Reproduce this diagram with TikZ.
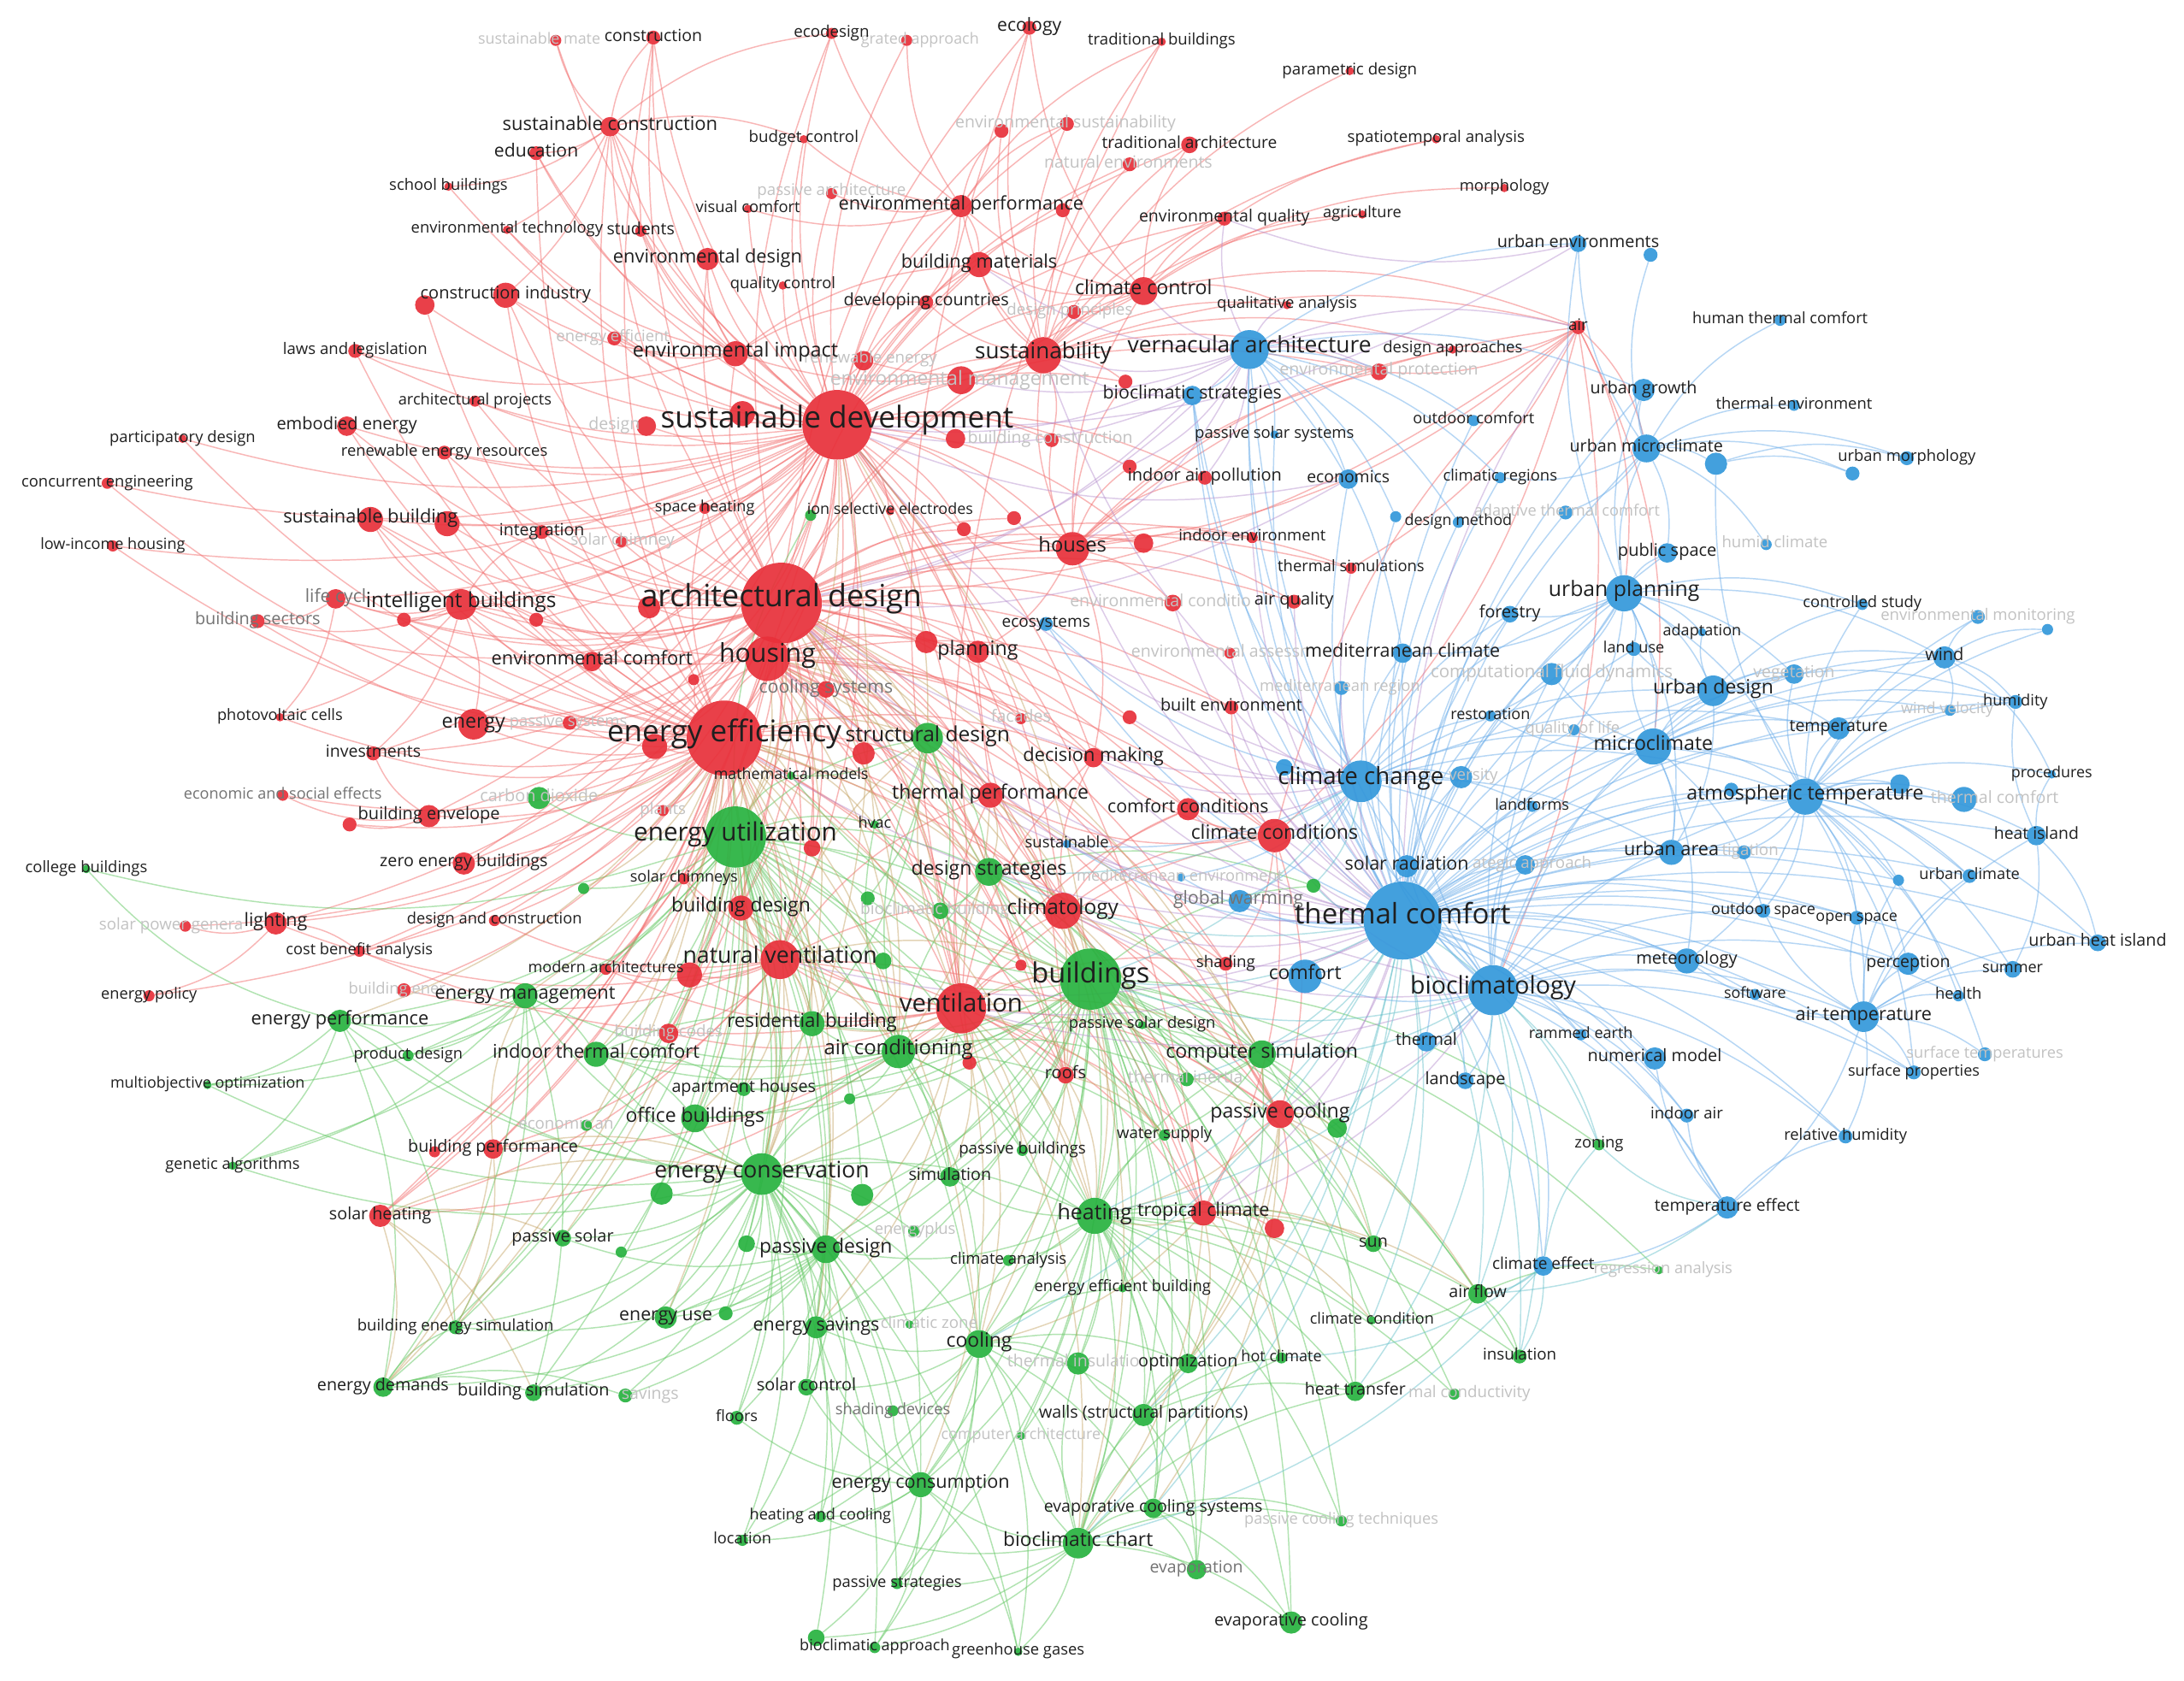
\documentclass[tikz,border=0pt]{standalone}
\usepackage{fontspec}
\setmainfont{Open Sans}
\pgfdeclarelayer{bg}\pgfdeclarelayer{edges}\pgfdeclarelayer{flabels}\pgfdeclarelayer{labels}
\pgfsetlayers{bg,edges,main,flabels,labels}
\definecolor{cR}{RGB}{232,48,58}
\definecolor{cG}{RGB}{40,178,64}
\definecolor{cB}{RGB}{52,152,219}
\definecolor{eR}{RGB}{243,110,110}
\definecolor{eG}{RGB}{100,200,100}
\definecolor{eB}{RGB}{110,175,235}
\definecolor{eRG}{RGB}{195,160,95}
\definecolor{eRB}{RGB}{180,140,205}
\definecolor{eGB}{RGB}{95,190,200}
\tikzset{
 kwc/.style={circle,inner sep=0pt,draw=none,fill opacity=0.92},
 lbl/.style={inner sep=0pt,text=black!88,text height=0.75em,text depth=0.25em},
 flbl/.style={inner sep=0pt,text=black!24,text height=0.75em,text depth=0.25em},
 glbl/.style={inner sep=0pt,text=black!55,text height=0.75em,text depth=0.25em},
 eRs/.style={draw=eR,line width=0.9pt,opacity=0.5},
 eGs/.style={draw=eG,line width=0.9pt,opacity=0.5},
 eBs/.style={draw=eB,line width=0.9pt,opacity=0.5},
 eRGs/.style={draw=eRG,line width=0.9pt,opacity=0.45},
 eRBs/.style={draw=eRB,line width=0.9pt,opacity=0.45},
 eGBs/.style={draw=eGB,line width=0.9pt,opacity=0.45},
}
\newcommand\KW[5]{\node[kwc,fill=c#5,minimum size=#4*2pt] (#1) at (#2,#3) {};}
\newcommand\LB[4]{\begin{pgfonlayer}{labels}\node[lbl,font=\fontsize{#3pt}{#3pt}\selectfont] at (#1,#2) {#4};\end{pgfonlayer}}
\newcommand\KWL[7]{\KW{#1}{#2}{#3}{#4}{#5}\LB{#2}{#3}{#6}{#7}}
\newcommand\FL[5][center]{\begin{pgfonlayer}{flabels}\node[flbl,anchor=#1,font=\fontsize{#4pt}{#4pt}\selectfont] at (#2,#3) {#5};\end{pgfonlayer}}
\newcommand\GL[5][center]{\begin{pgfonlayer}{labels}\node[glbl,anchor=#1,font=\fontsize{#4pt}{#4pt}\selectfont] at (#2,#3) {#5};\end{pgfonlayer}}
\newcommand\EE[3]{\foreach \t in {#3}{\draw[#1] (#2) to[bend left=16] (\t);}}
\begin{document}
\begin{tikzpicture}[x=1pt,y=-1pt]
\begin{pgfonlayer}{bg}\fill[white] (0,0) rectangle (1568,1207);\end{pgfonlayer}
\useasboundingbox (0,0) rectangle (1568,1207);
% ---------------- RED ----------------
\KW{smat}{399}{29}{4}{R}\FL[west]{343}{29}{11}{sustainable mate}
\KWL{constr}{469}{27}{5}{R}{12}{construction}
\KWL{ecod}{597}{24}{4}{R}{11.5}{ecodesign}
\KW{intap}{651}{29}{4}{R}\FL[east]{703}{29}{11}{grated approach}
\KWL{ecol}{739}{20}{5}{R}{13}{ecology}
\KWL{tradb}{834}{30}{3}{R}{11.4}{traditional buildings}
\KWL{param}{969}{51}{3}{R}{11.5}{parametric design}
\KWL{susc}{438}{91}{7}{R}{13.5}{sustainable construction}
\KWL{educ}{385}{110}{5}{R}{13}{education}
\KWL{budg}{577}{100}{3}{R}{11.5}{budget control}
\KW{ensus1}{719}{94}{5}{R}\KW{ensus}{766}{89}{5}{R}\FL{765}{89}{12}{environmental sustainability}
\KWL{tradarch}{854}{104}{6}{R}{11.8}{traditional architecture}
\KW{natenv}{811}{118}{5}{R}\FL{810}{118}{12}{natural environments}
\KWL{spatio}{1031}{100}{3}{R}{11.5}{spatiotemporal analysis}
\KWL{morph}{1080}{135}{3}{R}{11.3}{morphology}
\KWL{schb}{322}{134}{3}{R}{11.3}{school buildings}
\KW{passarch}{597}{139}{4}{R}\FL{597}{138}{11.5}{passive architecture}
\KWL{visc}{537}{150}{3}{R}{11.3}{visual comfort}
\KWL{envperf}{690}{148}{8}{R}{13.4}{environmental performance}
\KW{envperf2}{763}{151}{5}{R}
\KWL{envq}{879}{157}{5}{R}{12}{environmental quality}
\KWL{agri}{978}{154}{3}{R}{11.2}{agriculture}
\KWL{envtech}{364}{165}{3}{R}{11.3}{environmental technology}
\KWL{stud}{460}{166}{4}{R}{12}{students}
\KWL{envdes}{508}{186}{8}{R}{13.4}{environmental design}
\KWL{bmat}{703}{190}{9}{R}{13.4}{building materials}
\KWL{qualc}{562}{205}{3}{R}{11.3}{quality control}
\KWL{devc}{665}{217}{5}{R}{12.2}{developing countries}
\KWL{climc}{821}{209}{10}{R}{14.2}{climate control}
\KW{despr}{771}{224}{5}{R}\FL{768}{224}{11.5}{design principles}
\KWL{quala}{924}{219}{3}{R}{11.4}{qualitative analysis}
\KWL{consind}{363}{212}{9}{R}{12.3}{construction industry}
\KW{consind2}{305}{219}{7}{R}
\KWL{laws}{255}{252}{5}{R}{11.4}{laws and legislation}
\KW{eneff2}{441}{243}{5}{R}\FL{440}{243}{11.3}{energy efficient}
\KWL{envimp}{528}{254}{9}{R}{14.4}{environmental impact}
\KW{renen}{620}{259}{7}{R}\FL{625}{258}{11.5}{renewable energy}
\KWL{susty}{749}{255}{13}{R}{16}{sustainability}
\KW{envmgmt}{690}{273}{10}{R}\FL{689}{274}{14}{environmental management}
\KW{desap}{1043}{251}{3}{R}\LB{1043}{251}{11.4}{design approaches}
\KW{envprot}{990}{267}{6}{R}\FL{990}{267}{12}{environmental protection}
\KWL{air}{1133}{235}{5}{R}{11.5}{air}
\KW{sd2}{533}{297}{9}{R}
\KW{des}{464}{306}{7}{R}\FL{441}{306}{12}{design}
\KWL{sdev}{601}{305}{25}{R}{21.6}{sustainable development}
\KWL{archp}{341}{288}{4}{R}{11.2}{architectural projects}
\KWL{embe}{249}{306}{7}{R}{12.3}{embodied energy}
\KWL{partd}{131}{315}{3}{R}{11.3}{participatory design}
\KWL{renres}{319}{325}{5}{R}{11.3}{renewable energy resources}
\KWL{concur}{77}{347}{4}{R}{11.3}{concurrent engineering}
\KWL{susb}{266}{373}{9}{R}{13.4}{sustainable building}
\KW{susb2}{321}{376}{9}{R}
\KWL{integ}{389}{382}{5}{R}{12}{integration}
\KW{solch}{446}{389}{4}{R}\FL{447}{389}{11.5}{solar chimney}
\KWL{lowinc}{81}{392}{4}{R}{11.1}{low-income housing}
\KWL{spaceh}{506}{365}{4}{R}{11.1}{space heating}
\KWL{ionsel}{639}{367}{3}{R}{11}{ion selective electrodes}
\KW{r1}{728}{372}{5}{R}\KW{r2}{692}{380}{5}{R}\KW{r3}{821}{390}{7}{R}
\KWL{indenv}{899}{386}{4}{R}{11.3}{indoor environment}
\KWL{houses}{770}{394}{12}{R}{14.6}{houses}
\KW{bconst}{755}{316}{5}{R}\KW{bconst2}{686}{315}{7}{R}\FL{754}{316}{12}{building construction}
\KWL{indair}{865}{343}{5}{R}{12.3}{indoor air pollution}
\KW{iap2}{811}{335}{5}{R}\KW{r4}{808}{274}{5}{R}
\KWL{thsim}{970}{408}{4}{R}{11.3}{thermal simulations}
\KW{envcond}{842}{433}{6}{R}\FL[west]{768}{433}{12}{environmental conditio}
\KWL{airq}{929}{432}{5}{R}{12.3}{air quality}
\KWL{archd}{561}{433}{29}{R}{22}{architectural design}
\KW{ar2}{466}{436}{8}{R}
\KW{lifec}{241}{430}{7}{R}\GL{241}{430}{13}{life cycl}
\KWL{intb}{331}{434}{11}{R}{15}{intelligent buildings}
\KW{bsect}{185}{446}{5}{R}\GL{185}{446}{12.2}{building sectors}
\KW{r5}{290}{445}{5}{R}\KW{r6}{385}{445}{5}{R}
\KWL{envcomf}{425}{475}{7}{R}{13.4}{environmental comfort}
\KW{r7}{498}{488}{4}{R}
\KWL{housing}{551}{473}{16}{R}{18.6}{housing}
\KWL{planning}{702}{468}{8}{R}{14.2}{planning}
\KW{pl2}{665}{461}{8}{R}
\KW{coolsys}{593}{495}{6}{R}\GL{593}{495}{13}{cooling systems}
\KWL{photov}{201}{515}{3}{R}{11.2}{photovoltaic cells}
\KWL{energy}{340}{520}{11}{R}{14.3}{energy}
\KW{passys}{409}{519}{5}{R}\FL{408}{519}{11.3}{passive systems}
\KWL{invest}{268}{541}{5}{R}{12}{investments}
\KWL{eeff}{520}{530}{27}{R}{21.5}{energy efficiency}
\KW{ee2}{470}{536}{9}{R}
\KW{ecosoc}{203}{571}{4}{R}\GL{203}{571}{11.1}{economic and social effects}
\KW{plants}{476}{582}{4}{R}\FL{476}{582}{11.5}{plants}
\KWL{benv}{308}{586}{8}{R}{12.3}{building envelope}
\KW{benv2}{251}{592}{5}{R}
\KWL{zeb}{333}{620}{8}{R}{12.1}{zero energy buildings}
\KWL{solchs}{491}{631}{4}{R}{11.1}{solar chimneys}
\KWL{bdes}{532}{652}{9}{R}{14.1}{building design}
\KW{solpow}{133}{665}{4}{R}\FL[west]{71}{665}{11.5}{solar power genera}
\KWL{light}{198}{663}{8}{R}{13.2}{lighting}
\KWL{desconst}{355}{661}{4}{R}{11.2}{design and construction}
\KWL{costb}{258}{683}{4}{R}{11.2}{cost benefit analysis}
\KWL{modarch}{435}{696}{4}{R}{11.1}{modern architectures}
\KW{nv2}{495}{700}{9}{R}
\KWL{natvent}{560}{689}{14}{R}{16.4}{natural ventilation}
\KWL{enpol}{107}{715}{4}{R}{11.2}{energy policy}
\KW{benergy}{290}{711}{5}{R}\FL[west]{250}{711}{11.3}{building ener}
\KW{r8}{480}{742}{7}{R}\FL{480}{742}{11.5}{building codes}
\KWL{vent}{690}{724}{18}{R}{18}{ventilation}
\KW{r9}{733}{693}{4}{R}
\KWL{roofs}{765}{772}{6}{R}{12.3}{roofs}
\KW{r10}{696}{763}{5}{R}
\KWL{bperf}{354}{825}{7}{R}{12.1}{building performance}
\KW{bp2}{312}{827}{4}{R}
\KWL{solheat}{273}{873}{8}{R}{12.1}{solar heating}
\KWL{passcool}{919}{800}{10}{R}{14.2}{passive cooling}
\KWL{tropc}{864}{871}{9}{R}{13.3}{tropical climate}
\KW{tc2}{915}{882}{7}{R}
\KWL{decmak}{785}{544}{7}{R}{13.4}{decision making}
\KWL{thperf}{711}{571}{9}{R}{14.1}{thermal performance}
\KWL{comfc}{853}{581}{8}{R}{13.1}{comfort conditions}
\KWL{climcd}{915}{600}{12}{R}{14.1}{climate conditions}
\KWL{climtgy}{763}{654}{13}{R}{15}{climatology}
\KWL{shading}{880}{692}{5}{R}{11.5}{shading}
\KWL{builtenv}{884}{508}{5}{R}{12.2}{built environment}
\KW{be2}{811}{515}{5}{R}
\KW{facades}{733}{516}{4}{R}\FL{733}{516}{12}{facades}
\KW{envass}{883}{469}{4}{R}\FL[west]{812}{469}{12}{environmental assessm}
\KW{r11}{620}{541}{8}{R}\KW{r12}{583}{609}{6}{R}
% ---------------- GREEN ----------------
\KW{ionG}{582}{370}{4}{G}
\KW{ceG}{387}{573}{8}{G}\FL{387}{573}{12.2}{carbon dioxide}
\KWL{eutil}{528}{601}{22}{G}{18.2}{energy utilization}
\KWL{collb}{62}{624}{3}{G}{11.3}{college buildings}
\KW{g1}{419}{638}{4}{G}\KW{g2}{623}{645}{5}{G}
\KWL{enmgmt}{377}{715}{9}{G}{13.4}{energy management}
\KWL{enperf}{244}{733}{8}{G}{13.4}{energy performance}
\KWL{prodd}{293}{758}{4}{G}{11.2}{product design}
\KWL{itc}{428}{757}{9}{G}{13.5}{indoor thermal comfort}
\KWL{multi}{149}{779}{3}{G}{11}{multiobjective optimization}
\KWL{apth}{534}{782}{5}{G}{12.1}{apartment houses}
\KWL{offb}{499}{803}{10}{G}{14.1}{office buildings}
\KW{econan}{421}{808}{4}{G}\FL[west]{372}{808}{11.5}{economic an}
\KWL{gen}{167}{837}{3}{G}{11.2}{genetic algorithms}
\KW{ec2}{475}{857}{8}{G}\KW{ec3}{619}{858}{8}{G}
\KWL{econs}{547}{843}{15}{G}{16.3}{energy conservation}
\KWL{passsol}{404}{889}{6}{G}{12.2}{passive solar}
\KW{ps2}{446}{899}{4}{G}
\KWL{bes}{327}{953}{5}{G}{11.4}{building energy simulation}
\KWL{enuse}{478}{946}{8}{G}{13.1}{energy use}
\KW{g3}{521}{943}{5}{G}
\KWL{endem}{275}{996}{7}{G}{12.1}{energy demands}
\KWL{bsim}{383}{1000}{6}{G}{12.2}{building simulation}
\KW{esav2}{449}{1002}{5}{G}\FL[west]{446}{1002}{12}{savings}
\KWL{water}{836}{815}{4}{G}{11.4}{water supply}
\KWL{passb}{734}{826}{4}{G}{11.5}{passive buildings}
\KW{pc2}{960}{810}{7}{G}
\KWL{sim}{682}{845}{7}{G}{12.1}{simulation}
\KWL{heating}{786}{873}{13}{G}{15.3}{heating}
\KW{eplus}{656}{884}{4}{G}\FL{657}{884}{11.3}{energyplus}
\KW{g4}{536}{893}{6}{G}
\KWL{passdes}{593}{897}{10}{G}{14.1}{passive design}
\KWL{sun}{986}{893}{6}{G}{12.1}{sun}
\KWL{climan}{724}{905}{4}{G}{11.4}{climate analysis}
\KWL{eeb}{806}{925}{3}{G}{11.3}{energy efficient building}
\KW{climz}{653}{951}{3}{G}\FL[west]{632}{951}{11.5}{climatic zone}
\KWL{esav}{586}{953}{8}{G}{13.2}{energy savings}
\KWL{cool}{703}{965}{10}{G}{14.1}{cooling}
\KW{thins}{774}{979}{8}{G}\FL[west]{723}{979}{12}{thermal insulatio}
\KWL{optim}{853}{979}{7}{G}{12.2}{optimization}
\KWL{hotc}{920}{975}{4}{G}{11.1}{hot climate}
\KWL{climcond2}{985}{948}{3}{G}{11.1}{climate condition}
\KWL{solctl}{579}{996}{6}{G}{12.2}{solar control}
\KW{thcond}{1044}{1001}{4}{G}\FL[west]{1011}{1001}{11.5}{mal conductivity}
\KWL{heattr}{973}{999}{7}{G}{12}{heat transfer}
\KWL{floors}{529}{1018}{5}{G}{11.2}{floors}
\KW{shaddev}{641}{1013}{4}{G}\GL{641}{1013}{11.2}{shading devices}
\KWL{walls}{821}{1016}{8}{G}{12.1}{walls (structural partitions)}
\KW{comparch}{733}{1031}{3}{G}\FL{733}{1031}{11}{computer architecture}
\KWL{encons}{661}{1066}{9}{G}{13.3}{energy consumption}
\KWL{heatcool}{589}{1089}{4}{G}{11.1}{heating and cooling}
\KWL{evcs}{828}{1083}{7}{G}{12}{evaporative cooling systems}
\KW{pct}{963}{1092}{4}{G}\FL{963}{1092}{11.2}{passive cooling techniques}
\KWL{location}{533}{1106}{4}{G}{11.2}{location}
\KWL{bcc}{774}{1108}{11}{G}{14}{bioclimatic chart}
\KW{evap}{859}{1127}{7}{G}\GL{859}{1127}{12}{evaporation}
\KWL{passstr}{644}{1137}{4}{G}{11.3}{passive strategies}
\KWL{evc}{927}{1165}{8}{G}{12.2}{evaporative cooling}
\KW{g5}{586}{1176}{6}{G}
\KWL{bioapp}{628}{1183}{4}{G}{11.1}{bioclimatic approach}
\KWL{ghg}{731}{1186}{3}{G}{11.3}{greenhouse gases}
\KWL{zoning}{1148}{822}{4}{G}{11.3}{zoning}
\KW{regr}{1191}{912}{3}{G}\FL{1194}{912}{11.3}{regression analysis}
\KWL{airflow}{1061}{929}{7}{G}{12.1}{air flow}
\KWL{insul}{1091}{974}{5}{G}{11.5}{insulation}
\KWL{structd}{666}{530}{11}{G}{15.1}{structural design}
\KWL{hvac}{628}{592}{3}{G}{11.1}{hvac}
\KWL{mathm}{568}{557}{3}{G}{11}{mathematical models}
\KWL{desstr}{710}{626}{10}{G}{14.2}{design strategies}
\KW{bioclimb}{675}{654}{6}{G}\FL{671}{654}{11.8}{bioclimatic building}
\KW{g6}{943}{636}{5}{G}\KW{nv3}{634}{690}{6}{G}
\KWL{bldgs}{783}{703}{22}{G}{20}{buildings}
\KWL{resb}{583}{735}{9}{G}{13.7}{residential building}
\KWL{psd}{820}{736}{3}{G}{11.3}{passive solar design}
\KWL{aircon}{645}{755}{12}{G}{14.7}{air conditioning}
\KWL{compsim}{906}{757}{10}{G}{14.2}{computer simulation}
\KW{thinert}{852}{775}{5}{G}\FL{851}{775}{11.9}{thermal inertia}
\KW{g7}{610}{789}{4}{G}
% ---------------- BLUE ----------------
\KWL{vernac}{897}{251}{14}{B}{16.2}{vernacular architecture}
\KWL{bcs}{856}{284}{7}{B}{13.1}{bioclimatic strategies}
\KWL{pss}{915}{312}{3}{B}{11.4}{passive solar systems}
\KWL{econ}{968}{344}{7}{B}{11.9}{economics}
\KWL{urbenv}{1133}{175}{6}{B}{12.2}{urban environments}
\KW{ue2}{1185}{183}{5}{B}
\KWL{htc}{1278}{230}{4}{B}{11.2}{human thermal comfort}
\KWL{urbgr}{1180}{280}{8}{B}{12.1}{urban growth}
\KWL{thenv}{1288}{291}{4}{B}{11.3}{thermal environment}
\KWL{outc}{1058}{302}{4}{B}{11.2}{outdoor comfort}
\KWL{urbmc}{1182}{322}{10}{B}{12.1}{urban microclimate}
\KW{umc2}{1232}{333}{8}{B}
\KWL{urbmorph}{1369}{329}{5}{B}{11.3}{urban morphology}
\KW{um2}{1330}{340}{5}{B}
\KWL{climreg}{1077}{343}{4}{B}{11.3}{climatic regions}
\KW{atc}{1124}{368}{5}{B}\FL{1125}{368}{11.2}{adaptive thermal comfort}
\KW{b1}{1002}{371}{4}{B}
\KWL{desmeth}{1047}{375}{4}{B}{11}{design method}
\KW{hhc}{1268}{391}{4}{B}\FL[west]{1236}{391}{11.4}{humid climate}
\KWL{pubsp}{1197}{397}{7}{B}{12.3}{public space}
\KWL{ecosys}{751}{448}{5}{B}{11.7}{ecosystems}
\KWL{medclim}{1007}{469}{7}{B}{13.2}{mediterranean climate}
\KW{medreg}{963}{494}{5}{B}\FL{962}{494}{11.3}{mediterranean region}
\KW{cfd}{1114}{484}{8}{B}\FL{1114}{484}{12.6}{computational fluid dynamics}
\KW{cc2}{922}{551}{6}{B}
\KW{cc3}{1049}{558}{8}{B}\FL[west]{1040}{558}{11.5}{versity}
\KWL{climch}{977}{561}{15}{B}{17}{climate change}
\KWL{sust}{766}{606}{3}{B}{11.3}{sustainable}
\KWL{solrad}{1010}{622}{8}{B}{13.2}{solar radiation}
\KW{medenv}{848}{630}{3}{B}\FL{847}{630}{11.2}{mediterranean environment}
\KW{glob}{890}{647}{8}{B}\GL{889}{647}{13}{global warming}
\KWL{thc}{1007}{661}{28}{B}{20.3}{thermal comfort}
\KWL{comf}{937}{701}{12}{B}{14}{comfort}
\KWL{bioclimy}{1072}{711}{18}{B}{17.5}{bioclimatology}
\KWL{thermal}{1024}{748}{7}{B}{12}{thermal}
\KWL{landsc}{1052}{776}{6}{B}{12.2}{landscape}
\KWL{urbplan}{1166}{426}{13}{B}{15.2}{urban planning}
\KWL{forestry}{1084}{441}{6}{B}{12.1}{forestry}
\KWL{ctrl}{1337}{434}{4}{B}{11.3}{controlled study}
\KW{envmon}{1420}{443}{5}{B}\FL{1420}{443}{11.4}{environmental monitoring}
\KW{b2}{1470}{452}{4}{B}
\KWL{adapt}{1222}{454}{3}{B}{11.1}{adaptation}
\KWL{landuse}{1173}{466}{5}{B}{11.1}{land use}
\KWL{wind}{1396}{472}{8}{B}{12.3}{wind}
\KW{veg}{1288}{484}{7}{B}\FL{1288}{484}{11.9}{vegetation}
\KWL{urbdes}{1230}{496}{11}{B}{14.1}{urban design}
\KWL{humid}{1447}{504}{5}{B}{11.2}{humidity}
\KW{windv}{1400}{510}{4}{B}\FL{1398}{510}{11}{wind velocity}
\KWL{restor}{1070}{514}{4}{B}{11.1}{restoration}
\KW{qol}{1130}{524}{4}{B}\FL{1129}{524}{11.3}{quality of life}
\KWL{temp}{1320}{523}{8}{B}{12}{temperature}
\KWL{microcl}{1187}{536}{13}{B}{14.2}{microclimate}
\KWL{proc}{1473}{556}{3}{B}{11}{procedures}
\KW{b3}{1243}{567}{5}{B}\KW{b4}{1364}{563}{7}{B}
\KWL{atmt}{1296}{572}{13}{B}{14.2}{atmospheric temperature}
\KW{thc2}{1410}{574}{9}{B}\FL[west]{1386}{574}{12}{thermal comfort}
\KWL{landf}{1100}{579}{4}{B}{11.1}{landforms}
\KW{stratap}{1095}{621}{7}{B}\FL[west]{1057}{621}{11.5}{ategic approach}
\KWL{heatisl}{1462}{600}{7}{B}{11.9}{heat island}
\KW{mitig}{1252}{612}{5}{B}\FL[west]{1236}{612}{11.5}{tigation}
\KWL{urbarea}{1200}{612}{9}{B}{13.3}{urban area}
\KW{b5}{1363}{632}{4}{B}
\KWL{urbclim}{1414}{629}{5}{B}{11.2}{urban climate}
\KWL{outsp}{1266}{654}{5}{B}{11.1}{outdoor space}
\KWL{opensp}{1333}{659}{5}{B}{11}{open space}
\KWL{uhi}{1506}{677}{6}{B}{12.1}{urban heat island}
\KWL{meteo}{1211}{690}{9}{B}{12.3}{meteorology}
\KWL{percep}{1370}{692}{8}{B}{12}{perception}
\KWL{summer}{1445}{696}{6}{B}{11.1}{summer}
\KWL{software}{1260}{714}{4}{B}{11}{software}
\KWL{health}{1406}{715}{4}{B}{11.3}{health}
\KWL{airtemp}{1338}{730}{11}{B}{13.3}{air temperature}
\KWL{rammed}{1135}{743}{4}{B}{11.1}{rammed earth}
\KW{surft}{1425}{757}{5}{B}\FL{1425}{757}{11.2}{surface temperatures}
\KWL{nummod}{1188}{760}{8}{B}{12.2}{numerical model}
\KWL{surfp}{1374}{770}{5}{B}{11.1}{surface properties}
\KWL{indairB}{1211}{801}{5}{B}{11.4}{indoor air}
\KWL{relhum}{1325}{816}{5}{B}{11.3}{relative humidity}
\KWL{tempeff}{1240}{867}{8}{B}{11.9}{temperature effect}
\KWL{climeff}{1108}{909}{7}{B}{11.7}{climate effect}
% ---------------- EDGES ----------------
\begin{pgfonlayer}{edges}
\EE{eRs}{sdev}{constr, susc, educ, envperf, bmat, envdes, stud, consind, consind2, laws, eneff2, envimp, renen, susty, envmgmt, des, archp, embe, renres, susb, susb2, integ, solch, spaceh, ionsel, houses, bconst, bconst2, indair, iap2, archd, housing, eeff, intb, envcomf, planning, energy, natvent, vent, climtgy, thperf, decmak, climc, devc, tradarch, ecod, intap, budg, visc, qualc, passarch, r1, r2, r3, r4, sd2, ar2, lifec, ee2, bdes, envq, envprot, tropc, roofs, solheat, benv, zeb, coolsys, invest, envtech, schb, smat, partd, concur, lowinc, natenv, ensus, ensus1, envperf2, pl2, r5, r6, r7}
\EE{eRs}{archd}{housing, eeff, intb, envcomf, energy, lifec, bsect, r5, r6, r7, ar2, natvent, vent, bdes, climtgy, thperf, decmak, planning, pl2, houses, climc, susty, envimp, envdes, susb, susb2, integ, solch, spaceh, coolsys, modarch, solchs, passys, invest, benv, zeb, light, desconst, costb, r8, nv2, roofs, passcool, tropc, climcd, comfc, builtenv, be2, facades, airq, envcond, thsim, indenv, r1, r2, r3, envass, bperf, solheat, ee2, r11, r12, plants, r9, r10, shading, consind, embe, renres, archp, constr, ecol, ecod, susc, bmat}
\EE{eRs}{eeff}{housing, intb, energy, invest, photov, ecosoc, benv, benv2, zeb, light, solpow, costb, desconst, enpol, benergy, modarch, natvent, nv2, bdes, solchs, r8, bperf, bp2, solheat, vent, envcomf, passys, lifec, bsect, concur, partd, lowinc, susb, susb2, embe, renres, r5, r6, r7, thperf, decmak, climtgy, roofs, tropc, passcool, ee2, r11, r12, plants, consind, consind2, laws, integ, spaceh, constr, educ, susc}
\EE{eRs}{housing}{vent, natvent, climtgy, thperf, planning, pl2, decmak, builtenv, comfc, climcd, roofs, shading, passcool, tropc, r9, r10, susb, intb, energy, coolsys, r11, r12, facades, houses}
\EE{eRs}{vent}{natvent, climtgy, thperf, roofs, r9, r10, passcool, tropc, tc2, shading, decmak, climcd, comfc, r8, nv2, bdes, modarch, bperf, solheat, solchs, costb, ecol, tradb}
\EE{eRs}{natvent}{climtgy, thperf, bdes, nv2, r8, modarch, solchs, roofs, passcool, bperf, solheat, light, desconst, benergy}
\EE{eRs}{houses}{climc, susty, indair, iap2, indenv, thsim, airq, envcond, decmak, air, desap, envprot, r1, r2, r3, r4, planning, bconst}
\EE{eRs}{susty}{climc, bmat, envperf, tradarch, natenv, ensus, ensus1, tradb, ecol, envq, agri, quala, r4, despr, devc, bconst, envmgmt, renen, envimp, air, desap, envprot, spatio, param}
\EE{eRs}{climc}{envq, agri, quala, tradarch, ecol, air, despr, bmat, envperf, envperf2, morph, spatio}
\EE{eRs}{envimp}{consind, envdes, envtech, laws, stud, educ, susc, constr, bmat, devc, eneff2}
\EE{eRs}{susc}{constr, smat, educ, schb, envtech, stud, consind, envdes, budg, ecod}
\EE{eRs}{intb}{lifec, bsect, r5, r6, energy, envcomf, invest, photov, susb, integ}
\EE{eRs}{envperf}{ecod, intap, budg, visc, passarch, ensus1, ensus, tradb, devc, bmat}
\EE{eRs}{climtgy}{thperf, decmak, comfc, climcd, shading, roofs, tropc, passcool, planning}
\EE{eRs}{climcd}{comfc, thperf, decmak, shading, builtenv, tropc, passcool, air}
\EE{eRs}{air}{climcd, archd, envprot, desap, thsim, houses, urbplan, bioclimy, microcl, urbmc}
\EE{eRs}{tropc}{tc2, passcool}
\EE{eRs}{passcool}{tc2, shading}
\EE{eRs}{lifec}{bsect, photov}
\EE{eRs}{benv}{benv2, invest, ecosoc}
\EE{eRs}{light}{solpow, enpol, costb}
\EE{eGs}{eutil}{structd, hvac, mathm, desstr, bioclimb, g2, g1, ceG, enmgmt, enperf, prodd, itc, multi, collb, apth, offb, econan, gen, econs, ec2, ec3, passsol, bes, enuse, endem, bsim, esav, passdes, cool, heating, aircon, resb, bldgs, sim, encons, solctl, g4, g7, nv3, water, passb, ionG, g3, floors, ps2}
\EE{eGs}{bldgs}{structd, desstr, hvac, aircon, resb, compsim, thinert, psd, heating, cool, passdes, econs, esav, sim, climan, eeb, water, passb, g6, pc2, sun, optim, hotc, heattr, walls, encons, bcc, evcs, evap, evc, airflow, insul, zoning, climcond2, thins, eplus, climz, comparch, g7, enuse, nv3, bioclimb, g2, mathm, pct, thcond, regr, ec3, apth, offb, itc}
\EE{eGs}{econs}{offb, apth, itc, enmgmt, enperf, passsol, ps2, bes, endem, bsim, enuse, g3, esav2, esav, passdes, g4, ec2, ec3, sim, heating, cool, solctl, floors, encons, heatcool, location, passstr, bioapp, g5, ghg, shaddev, eplus, climz, econan, prodd, multi, gen, resb, aircon, g7}
\EE{eGs}{heating}{cool, optim, walls, bcc, evcs, thins, hotc, heattr, sun, eeb, climan, compsim, water, passb, sim, encons, passstr, evap, evc, airflow, insul, climcond2, pct, thcond, esav, passdes, comparch}
\EE{eGs}{cool}{encons, bcc, walls, thins, optim, evcs, shaddev, comparch, heatcool, location, passstr, ghg, bioapp, climan, eeb, esav, solctl}
\EE{eGs}{bcc}{evcs, evap, evc, walls, optim, thins, comparch, passstr, ghg, bioapp, g5, encons, heatcool, pct, heattr, hotc}
\EE{eGs}{encons}{floors, location, heatcool, passstr, bioapp, g5, solctl, shaddev, esav, ghg}
\EE{eGs}{aircon}{resb, apth, offb, itc, enmgmt, compsim, sim, passb, water, g7, thinert, structd, desstr, hvac, heating, cool}
\EE{eGs}{passdes}{esav, solctl, floors, enuse, g4, g3, bsim, endem, passsol, bes, esav2, heatcool, location}
\EE{eGs}{structd}{desstr, hvac, mathm, bioclimb, g2, resb}
\EE{eGs}{desstr}{bioclimb, compsim, thinert, psd, g6}
\EE{eGs}{compsim}{thinert, psd, water, pc2, sun, optim, heattr}
\EE{eGs}{walls}{optim, evcs, evap, thins, hotc, heattr}
\EE{eGs}{evcs}{evap, evc, pct}
\EE{eGs}{airflow}{insul, climcond2, regr, heattr}
\EE{eGs}{enmgmt}{enperf, prodd, itc, multi, gen, bes, endem, bsim}
\EE{eGs}{enperf}{collb, multi, gen, endem, bes, prodd}
\EE{eGs}{itc}{offb, apth, resb}
\EE{eGs}{endem}{bes, bsim, esav2}
\EE{eBs}{thc}{bioclimy, climch, comf, thermal, landsc, solrad, stratap, medclim, glob, medenv, cc2, cc3, sust, urbarea, microcl, urbplan, urbdes, atmt, airtemp, meteo, nummod, rammed, indairB, tempeff, climeff, relhum, outsp, opensp, percep, urbclim, heatisl, thc2, temp, landf, restor, forestry, landuse, pubsp, urbmc, urbgr, vernac, bcs, pss, econ, desmeth, b1, atc, climreg, outc, software, surfp, health, summer, b3, b4, b5, uhi, wind, cfd, qol, medreg, mitig, humid, veg, ecosys}
\EE{eBs}{bioclimy}{climch, comf, thermal, landsc, rammed, nummod, indairB, tempeff, climeff, meteo, software, airtemp, urbarea, microcl, urbplan, urbdes, solrad, stratap, relhum, surfp, percep, outsp, landf, atmt, vernac, bcs, medclim, cfd}
\EE{eBs}{climch}{medclim, cc2, cc3, solrad, stratap, urbarea, microcl, urbplan, landf, restor, forestry, glob, vernac, bcs, medreg, urbdes, atmt, temp, ecosys, sust, medenv}
\EE{eBs}{urbplan}{forestry, landuse, adapt, urbdes, microcl, pubsp, urbmc, urbgr, urbenv, cfd, medclim, restor, ctrl, wind, veg, atmt, urbarea, qol}
\EE{eBs}{microcl}{urbdes, atmt, urbarea, landuse, restor, qol, temp, veg, urbclim, humid, windv, wind, meteo, outsp, cfd}
\EE{eBs}{atmt}{urbarea, temp, wind, humid, proc, heatisl, urbclim, thc2, b3, b4, b5, percep, airtemp, outsp, opensp, meteo, summer, health, uhi, surft, surfp, envmon, b2, ctrl, windv, mitig, veg, umc2}
\EE{eBs}{airtemp}{percep, summer, health, surfp, surft, uhi, relhum, tempeff, meteo, software, urbclim, heatisl, opensp, outsp, b5}
\EE{eBs}{urbmc}{urbgr, umc2, um2, urbmorph, pubsp, hhc, thenv, urbenv, htc, atc, climreg, ue2}
\EE{eBs}{umc2}{um2, urbmorph}
\EE{eBs}{vernac}{bcs, pss, econ, desmeth, b1, climreg, outc, urbgr, medclim, urbenv}
\EE{eBs}{urbdes}{veg, temp, adapt, landuse, wind, urbarea, humid, ctrl}
\EE{eBs}{tempeff}{indairB, nummod, relhum, climeff}
\EE{eBs}{heatisl}{uhi, proc, summer, humid}
\EE{eBs}{wind}{humid, envmon, b2, windv, proc}
\EE{eRBs}{vernac}{susty, sdev, climc, bmat, houses, indair, air, archd, envq, quala, envprot, desap, iap2, envmgmt}
\EE{eRBs}{urbenv}{sdev, envq}
\EE{eRBs}{thc}{archd, climcd, comfc, vent, natvent, housing, shading, climtgy, passcool, thperf, decmak, builtenv, indenv, thsim, airq, envass, envcond, air, eeff, houses, tropc}
\EE{eRBs}{climch}{archd, sdev, susty, decmak, builtenv, be2, climcd, comfc}
\EE{eRBs}{bioclimy}{climtgy, vent, archd, passcool, tropc, climcd}
\EE{eRBs}{bcs}{sdev, archd, susty}
\EE{eRBs}{econ}{sdev, archd}
\EE{eRGs}{eeff}{eutil, econs, aircon, bldgs, offb, itc, enmgmt, enperf, ceG, g1, structd, desstr, resb, passdes, heating, cool, esav, bes, endem, passsol, enuse, apth, mathm, hvac}
\EE{eRGs}{archd}{bldgs, eutil, structd, desstr, aircon, econs, heating, hvac, bioclimb, compsim}
\EE{eRGs}{vent}{bldgs, aircon, resb, heating, cool, econs, passdes, compsim, esav, sim, desstr, structd, water, passb, encons, bcc}
\EE{eRGs}{natvent}{bldgs, eutil, aircon, resb, econs, structd, apth, offb}
\EE{eRGs}{climtgy}{bldgs, desstr, heating, cool, compsim, bcc, psd}
\EE{eRGs}{passcool}{bldgs, heating, sun, compsim, pc2, airflow, optim, walls, evcs}
\EE{eRGs}{tropc}{heating, airflow, sun, hotc, optim, cool, climcond2, bcc}
\EE{eRGs}{housing}{bldgs, eutil, structd, aircon}
\EE{eRGs}{sdev}{eutil, bldgs, econs, structd}
\EE{eRGs}{thperf}{bldgs, desstr, aircon, compsim}
\EE{eRGs}{bdes}{eutil, econs, resb, aircon}
\EE{eRGs}{solheat}{endem, bes, passsol, bsim, econs}
\EE{eRGs}{bperf}{econs, enmgmt, bes, endem}
\EE{eRGs}{roofs}{bldgs, heating, water}
\EE{eGBs}{thc}{bldgs, compsim, heating, cool, airflow, zoning, insul, climcond2, sun, pc2, g6, thinert, desstr, bcc, walls, evcs}
\EE{eGBs}{bioclimy}{bldgs, compsim, zoning, airflow, insul, heating, heattr}
\EE{eGBs}{climeff}{airflow, insul, zoning, bcc, hotc}
\EE{eGBs}{tempeff}{zoning, airflow}
\EE{eGBs}{climch}{bldgs, desstr, g6}
\end{pgfonlayer}
\end{tikzpicture}
\end{document}
